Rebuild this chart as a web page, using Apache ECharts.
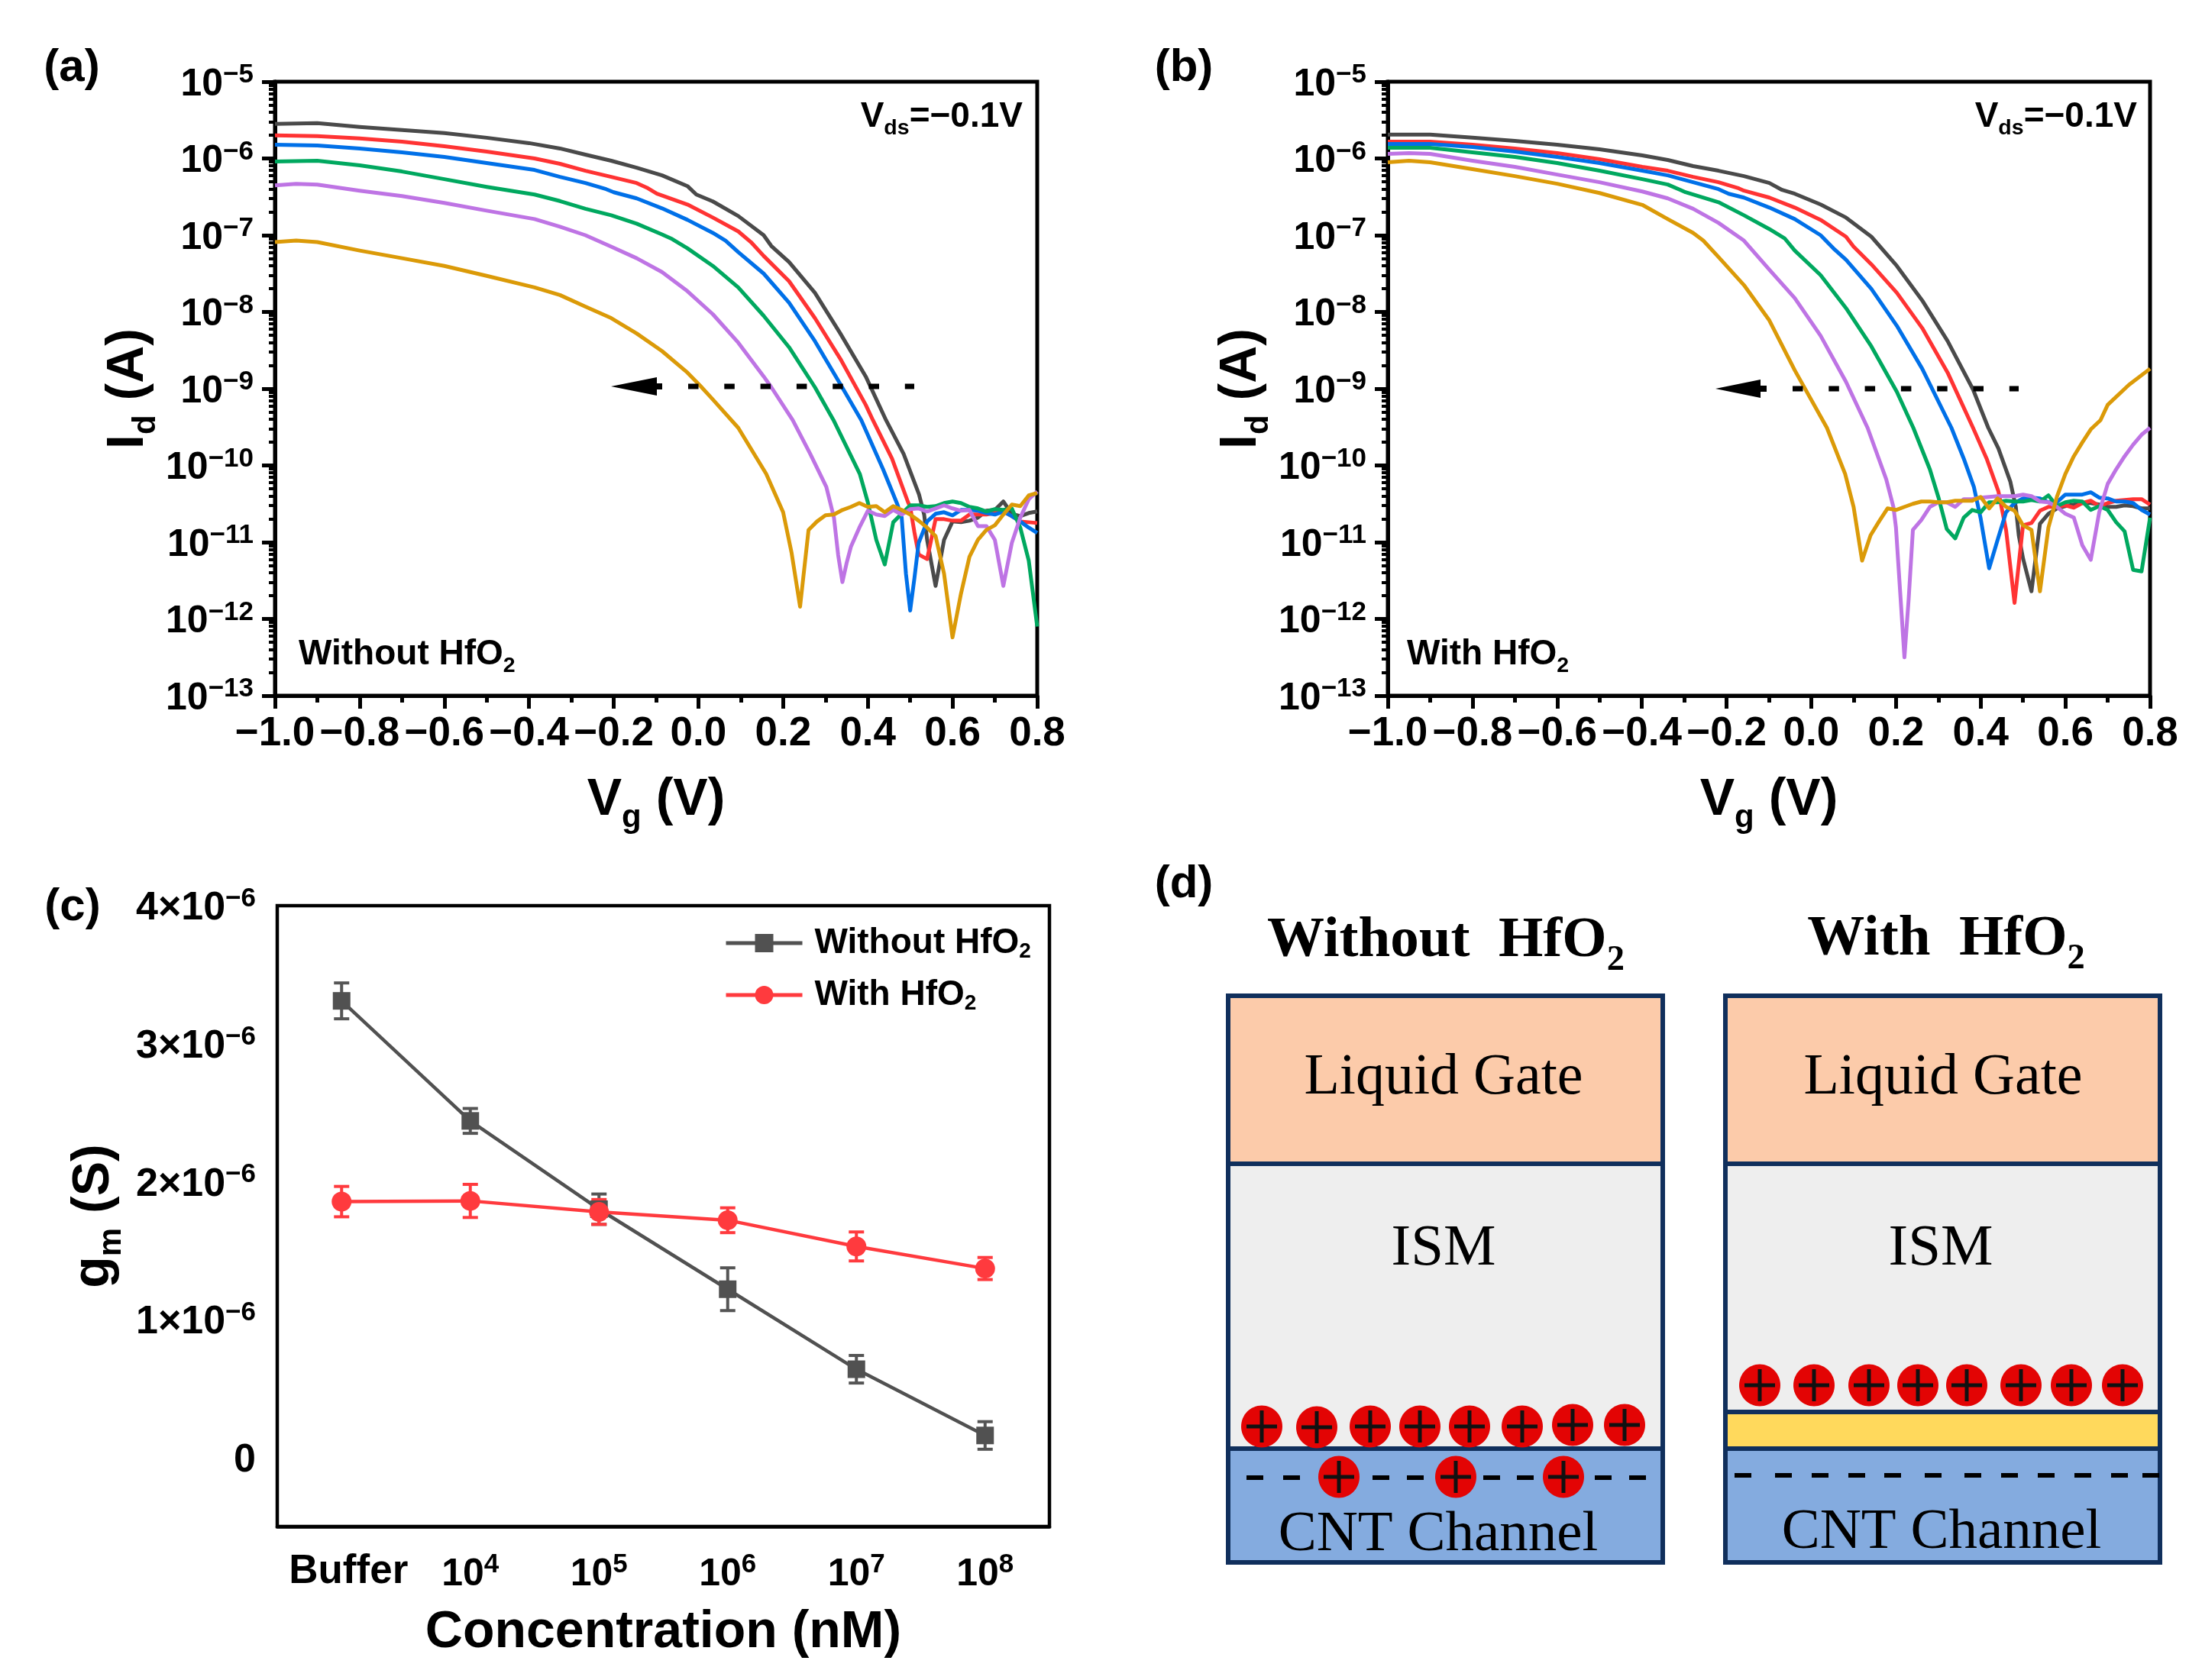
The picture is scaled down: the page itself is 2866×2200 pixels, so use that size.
<!DOCTYPE html>
<html><head><meta charset="utf-8"><style>html,body{margin:0;padding:0;background:#fff}#c{width:2866px;height:2200px}</style>
<script src="https://cdn.jsdelivr.net/npm/echarts@6/dist/echarts.min.js"></script></head>
<body><div id="c"></div>
<script>
// Transfer curves: pairs of [Vg (V), log10 Id (A)]
const aBlack=[[-1,-5.55],[-0.9,-5.54],[-0.8,-5.59],[-0.7,-5.63],[-0.6,-5.67],[-0.5,-5.73],[-0.4,-5.8],[-0.327,-5.87],[-0.267,-5.95],[-0.206,-6.03],[-0.146,-6.12],[-0.086,-6.22],[-0.026,-6.36],[-0.005,-6.47],[0.034,-6.56],[0.094,-6.75],[0.154,-7.0],[0.172,-7.14],[0.214,-7.35],[0.275,-7.75],[0.335,-8.28],[0.395,-8.84],[0.443,-9.41],[0.4845,-9.85],[0.521,-10.38],[0.533,-10.64],[0.54,-10.97],[0.56,-11.57],[0.58,-10.97],[0.6,-10.73],[0.62,-10.74],[0.64,-10.72],[0.66,-10.68],[0.68,-10.59],[0.7,-10.58],[0.72,-10.47],[0.74,-10.63],[0.76,-10.66],[0.78,-10.62],[0.8,-10.6]];
const aRed=[[-1,-5.7],[-0.9,-5.71],[-0.8,-5.74],[-0.7,-5.78],[-0.6,-5.84],[-0.5,-5.91],[-0.387,-6.0],[-0.327,-6.07],[-0.267,-6.16],[-0.206,-6.24],[-0.146,-6.32],[-0.122,-6.38],[-0.098,-6.46],[-0.026,-6.6],[0.034,-6.77],[0.094,-6.95],[0.124,-7.09],[0.154,-7.27],[0.214,-7.6],[0.275,-8.08],[0.335,-8.61],[0.395,-9.21],[0.412,-9.41],[0.457,-9.91],[0.495,-10.48],[0.5,-10.54],[0.51,-10.87],[0.52,-11.16],[0.54,-11.22],[0.56,-10.7],[0.58,-10.7],[0.6,-10.72],[0.62,-10.72],[0.64,-10.64],[0.66,-10.64],[0.68,-10.64],[0.7,-10.62],[0.72,-10.6],[0.74,-10.66],[0.76,-10.73],[0.78,-10.74],[0.8,-10.75]];
const aBlue=[[-1,-5.82],[-0.9,-5.83],[-0.8,-5.87],[-0.7,-5.92],[-0.6,-5.98],[-0.5,-6.06],[-0.387,-6.15],[-0.327,-6.24],[-0.267,-6.32],[-0.218,-6.4],[-0.2,-6.44],[-0.146,-6.52],[-0.086,-6.65],[-0.026,-6.8],[0.034,-6.97],[0.064,-7.07],[0.094,-7.22],[0.154,-7.5],[0.214,-7.88],[0.275,-8.38],[0.335,-8.94],[0.3846,-9.41],[0.436,-10.05],[0.47,-10.51],[0.48,-10.68],[0.49,-11.41],[0.5,-11.89],[0.51,-11.47],[0.52,-11.01],[0.54,-10.73],[0.56,-10.63],[0.58,-10.61],[0.6,-10.65],[0.62,-10.58],[0.64,-10.58],[0.66,-10.59],[0.68,-10.62],[0.7,-10.64],[0.72,-10.6],[0.74,-10.66],[0.76,-10.73],[0.78,-10.81],[0.8,-10.88]];
const aGreen=[[-1,-6.04],[-0.9,-6.03],[-0.8,-6.09],[-0.7,-6.17],[-0.6,-6.27],[-0.5,-6.37],[-0.387,-6.47],[-0.327,-6.555],[-0.267,-6.655],[-0.206,-6.74],[-0.146,-6.85],[-0.086,-6.99],[-0.062,-7.05],[-0.026,-7.17],[0.034,-7.4],[0.094,-7.68],[0.154,-8.05],[0.214,-8.46],[0.275,-8.98],[0.319,-9.41],[0.381,-10.11],[0.4,-10.48],[0.42,-10.97],[0.44,-11.29],[0.46,-10.74],[0.48,-10.63],[0.5,-10.52],[0.52,-10.52],[0.54,-10.54],[0.56,-10.53],[0.58,-10.49],[0.6,-10.47],[0.62,-10.49],[0.64,-10.54],[0.66,-10.56],[0.68,-10.6],[0.7,-10.57],[0.72,-10.58],[0.74,-10.56],[0.76,-10.81],[0.78,-11.24],[0.8,-12.1]];
const aPurple=[[-1,-6.35],[-0.95,-6.33],[-0.9,-6.34],[-0.8,-6.42],[-0.7,-6.49],[-0.6,-6.58],[-0.5,-6.68],[-0.387,-6.79],[-0.327,-6.89],[-0.267,-7.0],[-0.206,-7.15],[-0.146,-7.3],[-0.086,-7.48],[-0.026,-7.73],[0.034,-8.03],[0.094,-8.4],[0.154,-8.84],[0.172,-8.98],[0.2226,-9.41],[0.264,-9.85],[0.302,-10.28],[0.32,-10.68],[0.33,-11.17],[0.34,-11.52],[0.35,-11.27],[0.36,-11.06],[0.38,-10.81],[0.4,-10.59],[0.42,-10.64],[0.44,-10.66],[0.46,-10.58],[0.48,-10.64],[0.5,-10.57],[0.52,-10.56],[0.54,-10.6],[0.56,-10.56],[0.58,-10.52],[0.6,-10.56],[0.62,-10.59],[0.64,-10.58],[0.66,-10.79],[0.68,-10.79],[0.7,-10.97],[0.72,-11.57],[0.74,-11.01],[0.76,-10.68],[0.78,-10.44],[0.8,-10.34]];
const aGold=[[-1,-7.09],[-0.95,-7.07],[-0.9,-7.09],[-0.8,-7.2],[-0.7,-7.3],[-0.6,-7.4],[-0.5,-7.53],[-0.387,-7.68],[-0.327,-7.78],[-0.267,-7.93],[-0.206,-8.08],[-0.146,-8.28],[-0.086,-8.51],[-0.026,-8.79],[0.004,-8.96],[0.034,-9.14],[0.094,-9.51],[0.16,-10.11],[0.2,-10.61],[0.22,-11.14],[0.24,-11.84],[0.26,-10.84],[0.28,-10.73],[0.3,-10.65],[0.32,-10.64],[0.34,-10.58],[0.36,-10.54],[0.38,-10.49],[0.4,-10.54],[0.42,-10.53],[0.44,-10.61],[0.46,-10.53],[0.48,-10.58],[0.5,-10.64],[0.52,-10.72],[0.54,-10.81],[0.56,-10.92],[0.58,-11.41],[0.6,-12.24],[0.62,-11.67],[0.64,-11.19],[0.66,-10.97],[0.68,-10.84],[0.7,-10.78],[0.72,-10.64],[0.74,-10.51],[0.76,-10.53],[0.78,-10.39],[0.8,-10.36]];

const bBlack=[[-1,-5.69],[-0.9,-5.69],[-0.8,-5.73],[-0.7,-5.77],[-0.6,-5.82],[-0.5,-5.88],[-0.399,-5.96],[-0.339,-6.02],[-0.279,-6.1],[-0.219,-6.16],[-0.159,-6.23],[-0.099,-6.32],[-0.069,-6.41],[-0.039,-6.46],[0.022,-6.6],[0.082,-6.77],[0.142,-7.02],[0.202,-7.4],[0.262,-7.85],[0.322,-8.38],[0.382,-9.01],[0.418,-9.51],[0.442,-9.78],[0.47,-10.21],[0.483,-10.54],[0.49,-10.91],[0.5,-11.21],[0.52,-11.64],[0.54,-10.76],[0.56,-10.63],[0.58,-10.56],[0.6,-10.53],[0.62,-10.51],[0.64,-10.49],[0.66,-10.49],[0.68,-10.51],[0.7,-10.54],[0.72,-10.54],[0.74,-10.52],[0.76,-10.53],[0.78,-10.56],[0.8,-10.56]];
const bRed=[[-1,-5.78],[-0.9,-5.78],[-0.8,-5.82],[-0.7,-5.87],[-0.6,-5.93],[-0.5,-6.01],[-0.399,-6.11],[-0.339,-6.16],[-0.279,-6.24],[-0.219,-6.31],[-0.171,-6.39],[-0.159,-6.42],[-0.099,-6.51],[-0.039,-6.64],[0.022,-6.8],[0.082,-7.02],[0.1,-7.15],[0.142,-7.38],[0.202,-7.75],[0.262,-8.21],[0.322,-8.79],[0.382,-9.51],[0.414,-9.91],[0.442,-10.34],[0.46,-10.84],[0.48,-11.79],[0.5,-10.78],[0.52,-10.75],[0.54,-10.59],[0.56,-10.54],[0.58,-10.54],[0.6,-10.52],[0.62,-10.55],[0.64,-10.49],[0.66,-10.46],[0.68,-10.53],[0.7,-10.49],[0.72,-10.46],[0.74,-10.45],[0.76,-10.44],[0.78,-10.44],[0.8,-10.51]];
const bBlue=[[-1,-5.81],[-0.9,-5.81],[-0.8,-5.85],[-0.7,-5.91],[-0.6,-5.98],[-0.5,-6.06],[-0.399,-6.16],[-0.339,-6.22],[-0.279,-6.31],[-0.219,-6.4],[-0.195,-6.46],[-0.159,-6.51],[-0.099,-6.64],[-0.039,-6.79],[0.022,-7.0],[0.052,-7.17],[0.082,-7.32],[0.142,-7.7],[0.202,-8.18],[0.262,-8.74],[0.331,-9.51],[0.36,-9.91],[0.384,-10.28],[0.4,-10.69],[0.42,-11.34],[0.44,-10.97],[0.46,-10.61],[0.48,-10.49],[0.5,-10.43],[0.52,-10.42],[0.54,-10.43],[0.56,-10.48],[0.58,-10.48],[0.6,-10.38],[0.62,-10.38],[0.64,-10.38],[0.66,-10.35],[0.68,-10.42],[0.7,-10.43],[0.72,-10.47],[0.74,-10.47],[0.76,-10.49],[0.78,-10.58],[0.8,-10.64]];
const bGreen=[[-1,-5.86],[-0.9,-5.86],[-0.8,-5.92],[-0.7,-5.98],[-0.6,-6.06],[-0.5,-6.16],[-0.399,-6.27],[-0.339,-6.34],[-0.309,-6.41],[-0.297,-6.44],[-0.219,-6.57],[-0.159,-6.74],[-0.099,-6.92],[-0.063,-7.04],[-0.039,-7.2],[0.022,-7.52],[0.082,-7.95],[0.142,-8.45],[0.202,-9.04],[0.241,-9.51],[0.28,-10.05],[0.3,-10.41],[0.32,-10.83],[0.34,-10.95],[0.36,-10.68],[0.38,-10.58],[0.4,-10.61],[0.42,-10.48],[0.44,-10.48],[0.46,-10.46],[0.48,-10.47],[0.5,-10.47],[0.52,-10.45],[0.54,-10.47],[0.56,-10.39],[0.58,-10.53],[0.6,-10.48],[0.62,-10.46],[0.64,-10.47],[0.66,-10.58],[0.68,-10.53],[0.7,-10.58],[0.72,-10.74],[0.74,-10.86],[0.76,-11.36],[0.78,-11.38],[0.8,-10.68]];
const bPurple=[[-1,-5.94],[-0.95,-5.93],[-0.9,-5.94],[-0.8,-6.03],[-0.7,-6.11],[-0.6,-6.21],[-0.5,-6.31],[-0.399,-6.43],[-0.339,-6.52],[-0.279,-6.655],[-0.219,-6.84],[-0.159,-7.07],[-0.099,-7.45],[-0.039,-7.82],[0.022,-8.31],[0.082,-8.91],[0.133,-9.51],[0.177,-10.18],[0.194,-10.54],[0.2,-10.81],[0.211,-11.74],[0.22,-12.5],[0.23,-11.74],[0.24,-10.84],[0.26,-10.71],[0.28,-10.54],[0.3,-10.48],[0.32,-10.48],[0.34,-10.54],[0.36,-10.44],[0.38,-10.44],[0.4,-10.42],[0.42,-10.41],[0.44,-10.4],[0.46,-10.4],[0.48,-10.4],[0.5,-10.38],[0.52,-10.4],[0.54,-10.47],[0.56,-10.48],[0.58,-10.54],[0.6,-10.63],[0.62,-10.68],[0.64,-11.04],[0.66,-11.23],[0.68,-10.61],[0.7,-10.24],[0.72,-10.05],[0.74,-9.88],[0.76,-9.73],[0.78,-9.6],[0.8,-9.51]];
const bGold=[[-1,-6.05],[-0.95,-6.03],[-0.9,-6.05],[-0.8,-6.14],[-0.7,-6.23],[-0.6,-6.33],[-0.5,-6.45],[-0.399,-6.605],[-0.339,-6.79],[-0.279,-6.97],[-0.255,-7.07],[-0.219,-7.285],[-0.159,-7.65],[-0.099,-8.11],[-0.039,-8.76],[0.037,-9.51],[0.08,-10.11],[0.1,-10.54],[0.12,-11.24],[0.14,-10.91],[0.16,-10.73],[0.18,-10.56],[0.2,-10.58],[0.22,-10.54],[0.24,-10.5],[0.26,-10.47],[0.28,-10.47],[0.3,-10.48],[0.32,-10.48],[0.34,-10.46],[0.36,-10.46],[0.38,-10.46],[0.4,-10.41],[0.42,-10.56],[0.44,-10.43],[0.46,-10.54],[0.48,-10.59],[0.5,-10.78],[0.52,-10.84],[0.54,-11.64],[0.56,-10.81],[0.58,-10.41],[0.6,-10.11],[0.62,-9.88],[0.64,-9.7],[0.66,-9.53],[0.683,-9.41],[0.7,-9.21],[0.75,-8.95],[0.8,-8.74]];

// Transconductance: values and error half-widths, in units of 1e-6 S
const concCategories=['Buffer','4','5','6','7','8'];
const gmWithout=[3.31,2.44,1.8,1.22,0.64,0.16];
const gmWithoutErr=[0.13,0.09,0.11,0.155,0.1,0.1];
const gmWith=[1.855,1.86,1.78,1.72,1.53,1.37];
const gmWithErr=[0.11,0.12,0.09,0.09,0.105,0.08];
const yDecades=[-13,-12,-11,-10,-9,-8,-7,-6,-5];
const gmTicks=[0,1,2,3,4];

const SANS='"Liberation Sans",Arial,sans-serif', SERIF='"Liberation Serif","Times New Roman",serif';
const CURVE_COLORS=['#4a4a4a','#ff3333','#0070e8','#00a85f','#be74e4','#db9a08'];
const MINUS='\u2212';
const b={fontFamily:SANS,fontWeight:'bold',color:'#000'};
const tickRich={b:{...b,fontSize:50,lineHeight:60},c:{...b,fontSize:52,lineHeight:60},sup:{...b,fontSize:35,lineHeight:30,verticalAlign:'top'},
                p:{...b,fontSize:53,lineHeight:52,padding:[0,0,0,18]}};
const nameRich={b:{...b,fontSize:68,lineHeight:88},s:{...b,fontSize:42,lineHeight:44,verticalAlign:'bottom'}};

const minorLog=[];yDecades.slice(0,-1).forEach(d=>{for(let k=2;k<10;k++)minorLog.push(d+Math.log10(k));});

function curveSeries(arrs,gi){return arrs.map((a,i)=>({type:'line',xAxisIndex:gi,yAxisIndex:gi,showSymbol:false,symbol:'none',silent:true,
  lineStyle:{width:5,color:CURVE_COLORS[i],join:'round'},data:a.map(p=>[p[0],Math.pow(10,p[1])]),z:3+i,animation:false}));}
function errSeries(vals,errs,col){return {type:'custom',xAxisIndex:2,yAxisIndex:2,silent:true,z:2,
  data:vals.map((v,i)=>[i,v-errs[i],v+errs[i]]),encode:{x:0,y:[1,2]},
  renderItem(p,api){const lo=api.coord([api.value(0),api.value(1)]),hi=api.coord([api.value(0),api.value(2)]);const w=10;
    const st={stroke:col,lineWidth:4,fill:null};
    return {type:'group',children:[
      {type:'line',shape:{x1:lo[0],y1:lo[1],x2:hi[0],y2:hi[1]},style:st},
      {type:'line',shape:{x1:lo[0]-w,y1:lo[1],x2:lo[0]+w,y2:lo[1]},style:st},
      {type:'line',shape:{x1:hi[0]-w,y1:hi[1],x2:hi[0]+w,y2:hi[1]},style:st}]};}};}

const logAxis=(g)=>({type:'log',logBase:10,gridIndex:g,min:1e-13,max:1e-5,interval:1,splitNumber:8,position:'left',
  name:'{b|I}{s|d}{b| (A)}',nameLocation:'middle',nameRotate:90,nameGap:148,nameTextStyle:{rich:nameRich},
  axisLine:{show:true,onZero:false,lineStyle:{color:'#000',width:5}},axisTick:{show:true,inside:false,length:17,lineStyle:{color:'#000',width:5}},
  splitLine:{show:false},minorTick:{show:false},
  axisLabel:{margin:28,padding:[8,0,0,0],hideOverlap:false,showMinLabel:true,showMaxLabel:true,rich:tickRich,
    formatter:v=>'{b|10}{sup|'+MINUS+Math.abs(Math.round(Math.log10(v)))+'}'}});
const minorAxis=(g)=>({type:'value',gridIndex:g,min:-13,max:-5,interval:1,position:'left',axisLine:{show:false,onZero:false},axisLabel:{show:false},splitLine:{show:false},
  axisTick:{show:true,length:8,customValues:minorLog,lineStyle:{color:'#000',width:4}}});
const vgAxis=(g)=>({type:'value',gridIndex:g,min:-1,max:0.8,interval:0.2,position:'bottom',
  name:'{b|V}{s|g}{b| (V)}',nameLocation:'middle',nameGap:93,nameTextStyle:{rich:nameRich},
  axisLine:{onZero:false,lineStyle:{color:'#000',width:5}},axisTick:{length:17,lineStyle:{color:'#000',width:5}},
  minorTick:{show:true,splitNumber:2,length:9,lineStyle:{color:'#000',width:5}},splitLine:{show:false},minorSplitLine:{show:false},
  axisLabel:{margin:24,hideOverlap:false,showMinLabel:true,showMaxLabel:true,fontFamily:SANS,fontWeight:'bold',fontSize:53,color:'#000',
    formatter:v=>{const s=Math.abs(v).toFixed(1);return (v<-0.01?MINUS:'')+s;}}});

const option={animation:false,backgroundColor:'#fff',
 grid:[{left:360,top:107,width:998,height:804,show:true,borderWidth:5,borderColor:'#000',containLabel:false},
       {left:1817,top:107,width:998,height:804,show:true,borderWidth:5,borderColor:'#000',containLabel:false},
       {left:363,top:1186,width:1011,height:813,show:true,borderWidth:4.5,borderColor:'#000',containLabel:false}],
 xAxis:[vgAxis(0),vgAxis(1),
  {type:'category',gridIndex:2,data:concCategories,position:'bottom',boundaryGap:true,
   name:'Concentration (nM)',nameLocation:'middle',nameGap:105,nameTextStyle:{...b,fontSize:68},
   axisLine:{onZero:false,lineStyle:{color:'#000',width:4.5}},axisTick:{alignWithLabel:true,length:17,lineStyle:{color:'#000',width:4.5}},
   splitLine:{show:false},
   axisLabel:{margin:33,interval:0,hideOverlap:false,rich:tickRich,formatter:v=>v==='Buffer'?'{p|Buffer}':'{b|10}{sup|'+v+'}'}}],
 yAxis:[logAxis(0),logAxis(1),
  {type:'value',gridIndex:2,min:-0.5,max:4,interval:0.5,position:'left',
   name:'{b|g}{s|m}{b| (S)}',nameLocation:'middle',nameRotate:90,nameGap:196,nameTextStyle:{rich:nameRich},
   axisLine:{onZero:false,lineStyle:{color:'#000',width:4.5}},axisTick:{length:15,customValues:gmTicks,lineStyle:{color:'#000',width:4.5}},splitLine:{show:false},
   axisLabel:{margin:28,padding:[8,0,0,0],customValues:gmTicks,hideOverlap:false,rich:tickRich,formatter:v=>v===0?'{c|0}':'{c|'+v+'\u00d710}{sup|'+MINUS+'6}'}},
  minorAxis(0),minorAxis(1)],
 legend:{orient:'vertical',left:943,top:1207,itemWidth:100,itemHeight:30,itemGap:20,
   data:['Without HfO2','With HfO2'],selectedMode:false,
   lineStyle:{width:5},
   formatter:n=>'{t|'+n.replace('2','')+'}{s|2}',
   textStyle:{rich:{t:{...b,fontSize:46,lineHeight:50,padding:[0,0,0,11]},s:{...b,fontSize:28,lineHeight:28,verticalAlign:'bottom'}}}},
 series:[...curveSeries([aBlack,aRed,aBlue,aGreen,aPurple,aGold],0),
  ...curveSeries([bBlack,bRed,bBlue,bGreen,bPurple,bGold],1)],
};
// panel (c)
option.series.push(errSeries(gmWithout,gmWithoutErr,'#555555'),errSeries(gmWith,gmWithErr,'#ff3a3e'));
option.series.push({type:'line',name:'Without HfO2',xAxisIndex:2,yAxisIndex:2,data:gmWithout,symbol:'rect',symbolSize:23,z:4,
  lineStyle:{color:'#515151',width:4.5},itemStyle:{color:'#515151'}});
option.series.push({type:'line',name:'With HfO2',xAxisIndex:2,yAxisIndex:2,data:gmWith,symbol:'circle',symbolSize:26,z:5,
  lineStyle:{color:'#ff3a3e',width:4.5},itemStyle:{color:'#ff3a3e'}});
// minor-tick axes share the log panels' grids
option.series.push({type:'line',xAxisIndex:0,yAxisIndex:3,data:[],silent:true},{type:'line',xAxisIndex:1,yAxisIndex:4,data:[],silent:true});

// ---- annotations and panel (d) schematic ----
const g=[];
const txt=(x,y,text,size,opt={})=>({type:'text',z:20,x,y,style:{text,fontFamily:opt.family||SANS,fontWeight:opt.weight||'bold',fontSize:size,fill:'#000',
   align:opt.align||'left',verticalAlign:'middle',rich:opt.rich}});
const subRich=(size,fam)=>({t:{fontFamily:fam||SANS,fontWeight:'bold',fontSize:size,lineHeight:size*1.3,fill:'#000'},
   s:{fontFamily:fam||SANS,fontWeight:'bold',fontSize:size*0.62,lineHeight:size*0.7,verticalAlign:'bottom',fill:'#000'}});
g.push(txt(94,89,'(a)',60,{align:'center'}),txt(1550,89,'(b)',60,{align:'center'}),txt(95,1188,'(c)',60,{align:'center'}),txt(1550,1158,'(d)',60,{align:'center'}));
[[1339,153],[2798,153]].forEach(p=>g.push(txt(p[0],p[1],'{t|V}{s|ds}{t|='+MINUS+'0.1V}',46,{align:'right',rich:subRich(46)})));
g.push(txt(391,857,'{t|Without HfO}{s|2}',46,{rich:subRich(46)}),txt(1842,857,'{t|With HfO}{s|2}',46,{rich:subRich(46)}));
[[901,1197,800,860,867,506],[2347,2643,2246,2305,2313,509]].forEach(a=>{
  g.push({type:'line',z:20,shape:{x1:a[0],y1:a[5],x2:a[1],y2:a[5]},style:{stroke:'#000',lineWidth:7,lineDash:[13.5,33.8]}});
  g.push({type:'polygon',z:20,shape:{points:[[a[2],a[5]],[a[3],a[5]-12],[a[3],a[5]-4],[a[4],a[5]-4],[a[4],a[5]+4],[a[3],a[5]+4],[a[3],a[5]+12]]},style:{fill:'#000'}});
});
const NAVY='#102f5c';
const rect=(x,y,w,h,fill)=>({type:'rect',z:10,shape:{x,y,width:w,height:h},style:{fill,stroke:NAVY,lineWidth:6}});
const ion=(cx,cy)=>[{type:'ellipse',z:12,shape:{cx,cy,rx:27,ry:27.5},style:{fill:'#e30404'}},
  {type:'line',z:13,shape:{x1:cx-20,y1:cy,x2:cx+20,y2:cy},style:{stroke:'#111',lineWidth:5}},
  {type:'line',z:13,shape:{x1:cx,y1:cy-21,x2:cx,y2:cy+21},style:{stroke:'#111',lineWidth:5}}];
const dash=(x,y)=>({type:'line',z:11,shape:{x1:x,y1:y,x2:x+22,y2:y},style:{stroke:'#000',lineWidth:6}});
const L=1608,R=2259,W=569;
[[L,1897],[R,1849]].forEach(([x,ismBottom])=>{
  g.push(rect(x,1304,W,220,'#fccbaa'),rect(x,1524,W,ismBottom-1524,'#eeeeee'));
  if(ismBottom<1897) g.push(rect(x,ismBottom,W,1897-ismBottom,'#ffd95c'));
  g.push(rect(x,1897,W,149,'#84abdf'));
});
const serif=(x,y,t,s)=>txt(x,y,t,s,{family:SERIF,weight:'normal',align:'center'});
[1890,2544].forEach(x=>g.push(serif(x,1412,'Liquid Gate',76)));
[1890,2541].forEach(x=>g.push(serif(x,1636,'ISM',77)));
g.push(serif(1883,2010,'CNT Channel',75),serif(2542,2007,'CNT Channel',75));
g.push(txt(1893,1233,'{t|Without  HfO}{s|2}',75,{family:SERIF,align:'center',rich:subRich(75,SERIF)}));
g.push(txt(2548,1231,'{t|With  HfO}{s|2}',75,{family:SERIF,align:'center',rich:subRich(75,SERIF)}));
[[1652,1868],[1724,1869],[1794,1868],[1859,1868],[1924,1868],[1993,1868],[2059,1866],[2127,1866]].forEach(p=>g.push(...ion(p[0],p[1])));
[[1753,1934],[1906,1934],[2047,1934]].forEach(p=>g.push(...ion(p[0],p[1])));
[[2304,1814],[2375,1814],[2447,1814],[2511,1814],[2575,1814],[2646,1814],[2712,1814],[2779,1814]].forEach(p=>g.push(...ion(p[0],p[1])));
[1632,1680,1797,1842,1942,1986,2088,2133].forEach(x=>g.push(dash(x,1935)));
[2271,2324,2372,2420,2467,2520,2572,2620,2668,2716,2764,2805].forEach(x=>g.push(dash(x,1932)));
option.graphic={elements:g};

const chart=echarts.init(document.getElementById('c'),null,{renderer:'canvas',width:2866,height:2200,devicePixelRatio:1});
chart.setOption(option);
</script></body></html>
